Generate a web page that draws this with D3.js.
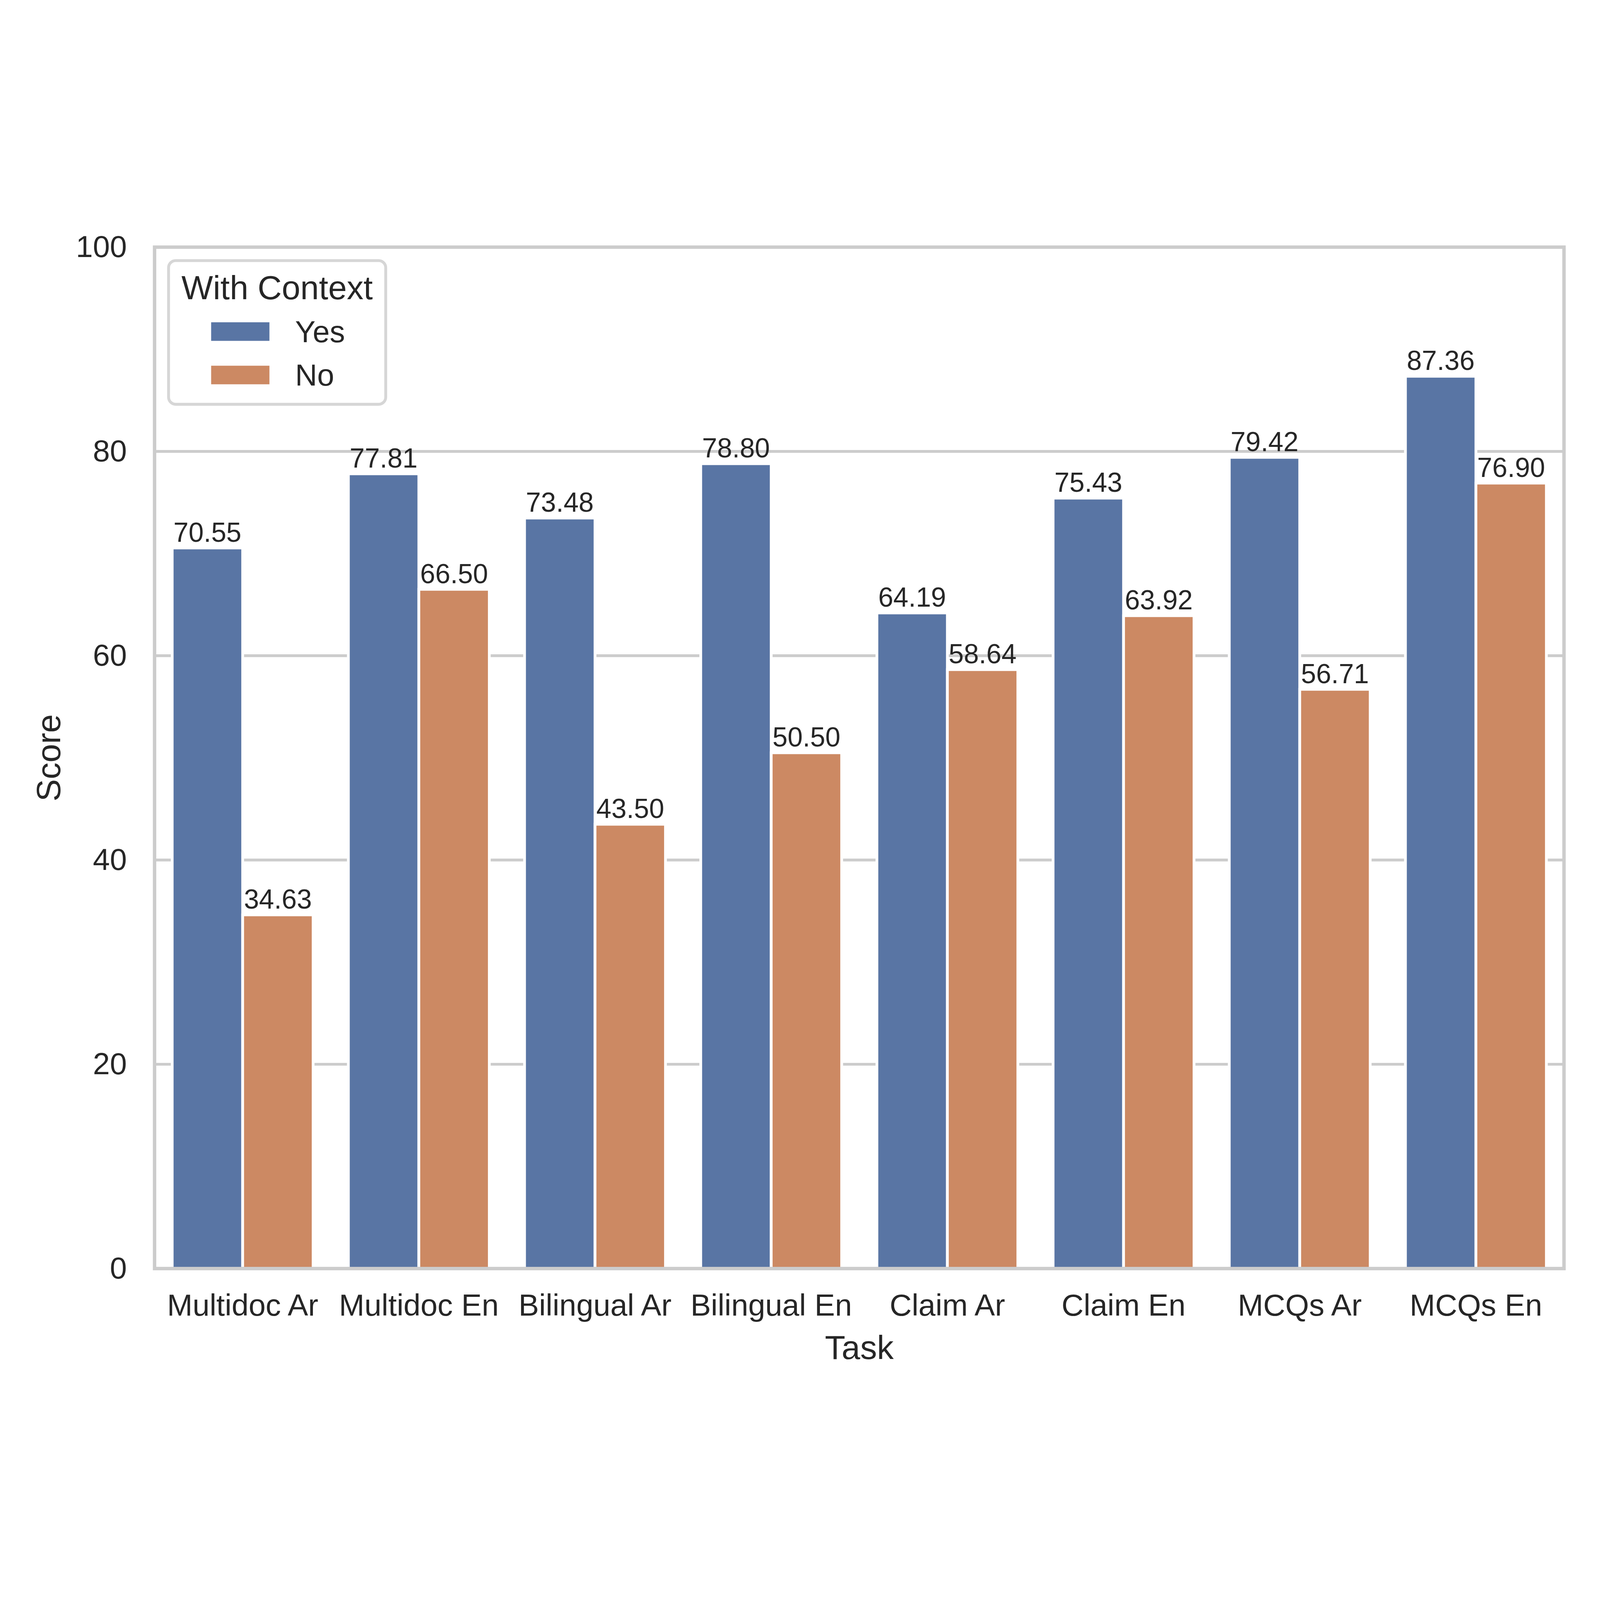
<!DOCTYPE html>
<html>
<head>
<meta charset="utf-8">
<script src="https://cdn.jsdelivr.net/npm/d3@7"></script>
<style>
  html, body { margin: 0; padding: 0; background: #fff; overflow: hidden; }
  svg { display: block; width: 100vw; height: 100vh; }
  text { font-family: "Liberation Sans", Arial, sans-serif; fill: #262626; }
</style>
</head>
<body>
<script>
// data
const tasks = ["Multidoc Ar", "Multidoc En", "Bilingual Ar", "Bilingual En",
               "Claim Ar", "Claim En", "MCQs Ar", "MCQs En"];
const contextGroups = ["Yes", "No"];
const withContext = [70.55, 77.81, 73.48, 78.80, 64.19, 75.43, 79.42, 87.36];
const noContext   = [34.63, 66.50, 43.50, 50.50, 58.64, 63.92, 56.71, 76.90];
const yTicks = [0, 20, 40, 60, 80, 100];
const groupColors = ["#5975a4", "#cc8963"];

const W = 5600, H = 4200;
const plot = { left: 541, right: 5474, top: 165, bottom: 3740 };

const rows = [];
tasks.forEach((t, i) => {
    rows.push({ task: t, group: "Yes", value: withContext[i] });
    rows.push({ task: t, group: "No", value: noContext[i] });
});

// svg scales to the window, drawing units stay 5600 x 4200
const svg = d3.select("body").append("svg")
    .attr("viewBox", "0 0 " + W + " " + H)
    .attr("preserveAspectRatio", "xMidYMid meet");

// x: one band per task, sub band per hue
const x = d3.scaleBand()
    .domain(tasks)
    .range([plot.left, plot.right])
    .paddingInner(0.2)
    .paddingOuter(0.1);

const xHue = d3.scaleBand()
    .domain(contextGroups)
    .range([0, x.bandwidth()]);

const y = d3.scaleLinear()
    .domain([0, 100])
    .range([plot.bottom, plot.top]);

const color = d3.scaleOrdinal().domain(contextGroups).range(groupColors);

// grid lines
svg.append("g")
    .selectAll("line")
    .data(yTicks)
    .enter()
    .append("line")
    .attr("x1", plot.left)
    .attr("x2", plot.right)
    .attr("y1", d => y(d))
    .attr("y2", d => y(d))
    .attr("stroke", "#cccccc")
    .attr("stroke-width", 9.7);

// bars
svg.append("g")
    .selectAll("rect")
    .data(rows)
    .enter()
    .append("rect")
    .attr("x", d => x(d.task) + xHue(d.group))
    .attr("y", d => y(d.value))
    .attr("width", xHue.bandwidth())
    .attr("height", d => y(0) - y(d.value))
    .attr("fill", d => color(d.group))
    .attr("stroke", "#ffffff")
    .attr("stroke-width", 9.7);

// bar labels
svg.append("g")
    .selectAll("text")
    .data(rows)
    .enter()
    .append("text")
    .attr("x", d => x(d.task) + xHue(d.group) + xHue.bandwidth() / 2)
    .attr("y", d => y(d.value) - 22)
    .attr("text-anchor", "middle")
    .attr("font-size", 95)
    .text(d => d.value.toFixed(2));

// spines
svg.append("rect")
    .attr("x", plot.left)
    .attr("y", plot.top)
    .attr("width", plot.right - plot.left)
    .attr("height", plot.bottom - plot.top)
    .attr("fill", "none")
    .attr("stroke", "#cccccc")
    .attr("stroke-width", 12);

// y axis
const yAxis = svg.append("g")
    .attr("transform", "translate(" + plot.left + ",0)")
    .call(d3.axisLeft(y).tickValues(yTicks).tickSize(0).tickPadding(97));
yAxis.select(".domain").remove();
yAxis.selectAll("text")
    .attr("font-size", 107)
    .attr("fill", "#262626")
    .attr("font-family", "Liberation Sans, Arial, sans-serif");

// x axis
const xAxis = svg.append("g")
    .attr("transform", "translate(0," + plot.bottom + ")")
    .call(d3.axisBottom(x).tickSize(0).tickPadding(0));
xAxis.select(".domain").remove();
xAxis.selectAll("text")
    .attr("font-size", 107)
    .attr("fill", "#262626")
    .attr("font-family", "Liberation Sans, Arial, sans-serif")
    .attr("dy", null)
    .attr("y", 165);

// axis labels
svg.append("text")
    .attr("x", (plot.left + plot.right) / 2)
    .attr("y", 4057)
    .attr("text-anchor", "middle")
    .attr("font-size", 117)
    .text("Task");

svg.append("text")
    .attr("transform", "translate(211," + (plot.top + plot.bottom) / 2 + ") rotate(-90)")
    .attr("text-anchor", "middle")
    .attr("font-size", 117)
    .text("Score");

// legend
const legend = svg.append("g");
legend.append("rect")
    .attr("x", 590)
    .attr("y", 212)
    .attr("width", 760)
    .attr("height", 503)
    .attr("rx", 25)
    .attr("fill", "#ffffff")
    .attr("fill-opacity", 0.8)
    .attr("stroke", "#d6d6d6")
    .attr("stroke-width", 10);

legend.append("text")
    .attr("x", 970)
    .attr("y", 347)
    .attr("text-anchor", "middle")
    .attr("font-size", 117)
    .text("With Context");

contextGroups.forEach((g, i) => {
    legend.append("rect")
        .attr("x", 739)
        .attr("y", 428 + i * 152)
        .attr("width", 204)
        .attr("height", 65)
        .attr("fill", color(g));
    legend.append("text")
        .attr("x", 1033)
        .attr("y", 497 + i * 152)
        .attr("font-size", 107)
        .text(g);
});
</script>
</body>
</html>
